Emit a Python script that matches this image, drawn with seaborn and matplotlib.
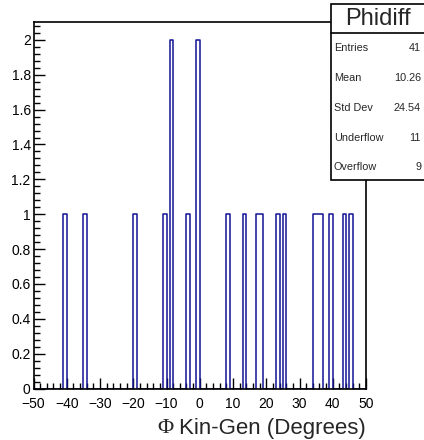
import numpy as np
import pandas as pd
import matplotlib
matplotlib.use("Agg")
import matplotlib.pyplot as plt
import matplotlib.transforms as mtransforms
from matplotlib.ticker import MultipleLocator, FuncFormatter
import seaborn as sns

# Filled bins of the Phidiff histogram (lower edge in degrees, content)
bin_lows = [-41, -35, -20, -11, -9, -4, -1, 8, 13, 17, 18, 23, 25, 34, 35, 36, 39, 43, 45]
counts = [1, 1, 1, 1, 2, 1, 2, 1, 1, 1, 1, 1, 1, 1, 1, 1, 1, 1, 1]

hist_name = "Phidiff"
stat_labels = ["Entries", "Mean", "Std Dev", "Underflow", "Overflow"]
stat_values = ["41", "10.26", "24.54", "11", "9"]
x_symbol = "\u03a6"
x_label = "Kin-Gen (Degrees)"

x_min, x_max, n_bins = -50, 50, 100
df = pd.DataFrame({"phi": np.array(bin_lows, dtype=float) + 0.5,
                   "w": np.array(counts, dtype=float)})

sns.set_style("white")
plt.rcParams["font.family"] = ["Liberation Sans", "DejaVu Sans"]

W, H = 424, 440
fig = plt.figure(figsize=(W / 100, H / 100), dpi=100)
ax_left, ax_right, ax_top, ax_bottom = 33.5, 366, 22.5, 388.5
ax = fig.add_axes([ax_left / W, (H - ax_bottom) / H,
                   (ax_right - ax_left) / W, (ax_bottom - ax_top) / H])

sns.histplot(data=df, x="phi", weights="w", bins=n_bins, binrange=(x_min, x_max),
             element="step", fill=False, color="#141496", linewidth=1.1, ax=ax)

ax.set_xlim(x_min, x_max)
ax.set_ylim(0, 2.1)
ax.set_xlabel("")
ax.set_ylabel("")

ax.xaxis.set_major_locator(MultipleLocator(10))
ax.xaxis.set_minor_locator(MultipleLocator(2))
ax.yaxis.set_major_locator(MultipleLocator(0.2))
ax.yaxis.set_minor_locator(MultipleLocator(0.04))

def fmt(v, pos):
    s = f"{v:g}"
    return s.replace("-", "\u2212")

ax.xaxis.set_major_formatter(FuncFormatter(fmt))
ax.yaxis.set_major_formatter(FuncFormatter(lambda v, p: f"{v:.1f}".rstrip("0").rstrip(".") if abs(v) > 1e-9 else "0"))

ax.tick_params(axis="both", which="both", direction="in", colors="black",
               labelsize=10, width=1.0)
ax.tick_params(axis="x", which="major", length=8, pad=6, bottom=True, top=False)
ax.tick_params(axis="x", which="minor", length=4, bottom=True, top=False)
ax.tick_params(axis="y", which="major", length=8, pad=2, left=True, right=False)
ax.tick_params(axis="y", which="minor", length=4, left=True, right=False)
for sp in ax.spines.values():
    sp.set_color("black")
    sp.set_linewidth(1.2)

# lift the "0" label on the y axis slightly so it clears the "-50" below it
fig.canvas.draw()
zero_lbl = ax.get_yticklabels()[0]
zero_lbl.set_transform(zero_lbl.get_transform() +
                       mtransforms.ScaledTranslation(0, 3 / 100, fig.dpi_scale_trans))

# Axis title: serif Phi followed by the sans-serif text, right-aligned to the axis end
lab_y = 1 - 428 / H
t_main = fig.text(366 / W, lab_y, x_label, ha="right", va="center", fontsize=16)
renderer = fig.canvas.get_renderer()
bb = t_main.get_window_extent(renderer=renderer)
fig.text((bb.x0 - 6) / W, lab_y, x_symbol, ha="right", va="center", fontsize=16,
         family=["Liberation Serif", "DejaVu Serif"])

# Statistics box in the upper right corner
bx0, bx1, by0, by1, bdiv = 331, 426, 4, 180, 33
box = plt.Rectangle((bx0 / W, 1 - by1 / H), (bx1 - bx0) / W, (by1 - by0) / H,
                    transform=fig.transFigure, facecolor="white",
                    edgecolor="black", linewidth=1.2, zorder=5)
fig.patches.append(box)
fig.add_artist(plt.Line2D([bx0 / W, bx1 / W], [1 - bdiv / H, 1 - bdiv / H],
                          transform=fig.transFigure, color="black",
                          linewidth=1.2, zorder=6))
fig.text(378 / W, 1 - 19 / H, hist_name, ha="center", va="center",
         fontsize=17, zorder=7)
row_y = [48, 78, 108, 138, 167]
for lab, val, yy in zip(stat_labels, stat_values, row_y):
    fig.text(334 / W, 1 - yy / H, lab, ha="left", va="center", fontsize=7.8, zorder=7)
    fig.text(421 / W, 1 - yy / H, val, ha="right", va="center", fontsize=7.8, zorder=7)

fig.savefig("out.png", dpi=100)
